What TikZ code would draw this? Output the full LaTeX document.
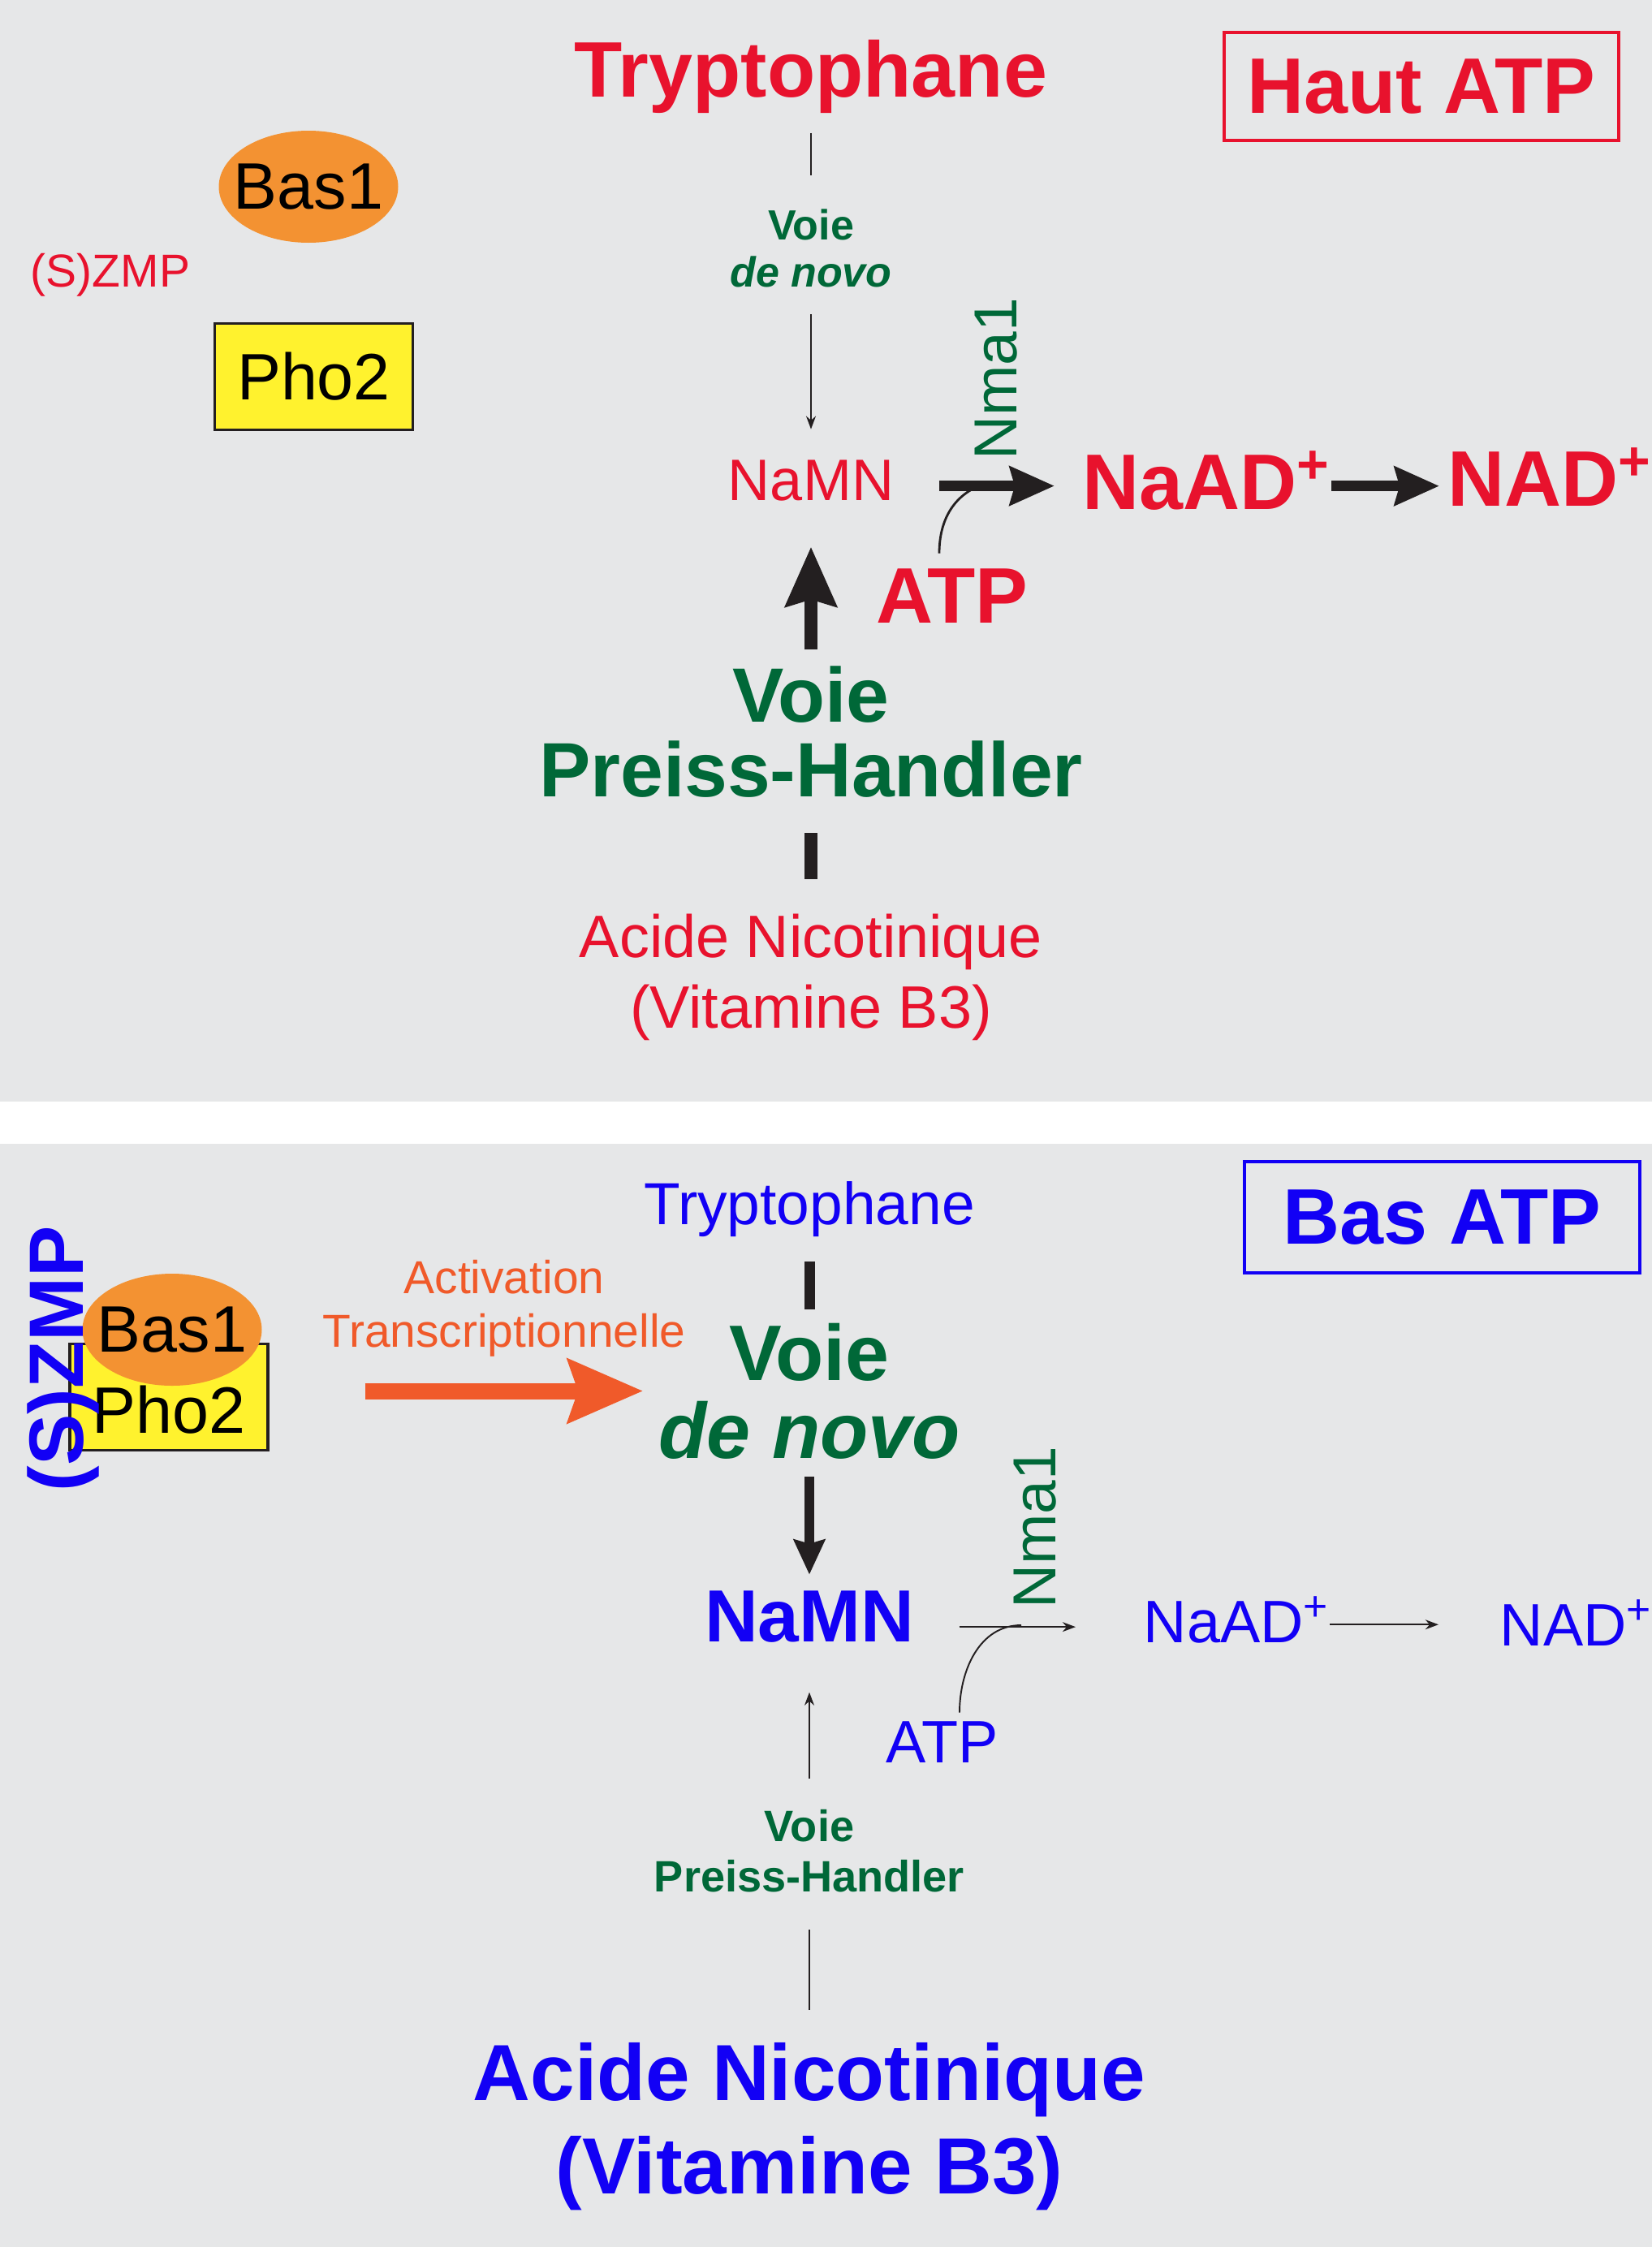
\documentclass[tikz,border=0pt]{standalone}
\usepackage{fontspec}
\setmainfont{Liberation Sans}
\usetikzlibrary{arrows.meta, shapes.geometric}
\definecolor{myRed}{RGB}{232,18,45}
\definecolor{myBlue}{RGB}{18,0,245}
\definecolor{myGreen}{RGB}{0,104,56}
\definecolor{myOrange}{RGB}{240,90,42}
\definecolor{bubbleOrange}{RGB}{243,146,50}
\definecolor{boxYellow}{RGB}{255,242,46}
\definecolor{panelGray}{RGB}{230,231,232}
\definecolor{inkBlack}{RGB}{35,31,32}
\newcommand{\fsz}[2]{\fontsize{#1}{#2}\selectfont}

\begin{document}
\begin{tikzpicture}[
		txt/.style = {inner sep = 0pt, anchor = base},
		multi/.style = {inner sep = 0pt, align = center},
		atpbox/.style = {draw = #1, text = #1, line width = 1.4pt, inner sep = 0pt, font = \bfseries\fsz{27.6}{27.6}},
		bubble/.style = {ellipse, fill = bubbleOrange, inner ysep = 0pt, inner xsep = -0.2cm, minimum width = 2.21cm, minimum height = 1.38cm, font = \fsz{23}{23}},
		yelbox/.style = {draw = inkBlack, fill = boxYellow, line width = 0.9pt, inner sep = 0pt, minimum width = 2.44cm, minimum height = 1.31cm, font = \fsz{23}{23}},
		fat/.style = {inkBlack, line width = 3.7pt, -{Stealth[length = 15.6pt, width = 13.4pt, inset = 1.7pt]}},
		fatup/.style = {inkBlack, line width = 4.8pt, -{Stealth[length = 20.8pt, width = 17.6pt, inset = 2.3pt]}},
		fatdown/.style = {inkBlack, line width = 3.6pt, -{Stealth[length = 12.2pt, width = 10.8pt, inset = 1.4pt]}},
		stub/.style = {inkBlack, line width = #1},
		fine/.style = {inkBlack, line width = 0.55pt},
		finearrow/.style = {fine, -{Stealth[length = 4.6pt, width = 3.4pt]}},
		activ/.style = {myOrange, line width = 5.7pt, -{Stealth[length = 26.2pt, width = 21.9pt, inset = 3.4pt]}}
	]
		\useasboundingbox (0, 0) rectangle (20.35, -27.68);
		\fill[white] (0, 0) rectangle (20.35, -27.68);
		\fill[panelGray] (0, 0) rectangle (20.35, -13.57);
		\fill[panelGray] (0, -14.09) rectangle (20.35, -27.68);
		%%%%%%%%%%%%% haut ATP
		\node[txt, myRed, font = \bfseries\fsz{27.6}{27.6}] (trpH) at (9.99, -1.19) {Tryptophane};
		\node[atpbox = myRed, minimum width = 4.86cm, minimum height = 1.33cm] (haut) at (17.51, -1.065) {Haut ATP};
		\node[bubble] (bas1H) at (3.80, -2.30) {Bas1};
		\node[txt, myRed, font = \fsz{16.2}{16.2}] (szmpH) at (1.36, -3.53) {(S)ZMP};
		\node[yelbox] (pho2H) at (3.865, -4.64) {Pho2};
		\node[multi, myGreen, font = \bfseries\fsz{14.8}{16.5}] (dnS) at (9.99, -3.055) {Voie\\\textit{de novo}};
		\node[txt, myRed, font = \fsz{20.5}{20.5}] (namnH) at (9.99, -6.16) {NaMN};
		\node[txt, myGreen, rotate = 90, font = \fsz{21.3}{21.3}] (nmaH) at (12.52, -4.67) {Nma1};
		\node[txt, anchor = base west, myRed, font = \bfseries\fsz{27.6}{27.6}] (naadH) at (13.33, -6.27) {NaAD\textsuperscript{+}};
		\node[txt, anchor = base west, myRed, font = \bfseries\fsz{27.6}{27.6}] (nadH) at (17.83, -6.23) {NAD\textsuperscript{+}};
		\node[txt, myRed, font = \bfseries\fsz{27.6}{27.6}] (atpH) at (11.73, -7.67) {ATP};
		\node[multi, myGreen, font = \bfseries\fsz{27}{26.2}] (phBig) at (9.99, -9.02) {Voie\\Preiss-Handler};
		\node[multi, myRed, font = \fsz{21}{24.8}] (acH) at (9.99, -12.035) {Acide Nicotinique\\(Vitamine B3)};
		\coordinate (jH) at (12.10, -5.97);
		%%%%%%%%%%%%%
		\draw[fine, shorten < = 0.24cm, shorten > = 0.41cm] (trpH.south) -- (dnS.north);
		\draw[finearrow, shorten < = 0.33cm, shorten > = 0.37cm] (dnS.south) -- (namnH.north);
		\draw[fatup, shorten < = 0.20cm, shorten > = 0.56cm] (phBig.north) -- (namnH.south);
		\draw[stub = 4.8pt, shorten < = 0.42cm, shorten > = 0.42cm] (acH.north) -- (phBig.south);
		\draw[inkBlack, line width = 0.8pt] ([xshift = -0.16cm, yshift = 0.18cm]atpH.north) to[out = 90, in = 200] (jH);
		\draw[fat, shorten < = 0.55cm, shorten > = 0.34cm] ([yshift = -0.07cm]namnH.east) -- ([yshift = -0.07cm]namnH.east -| naadH.west);
		\draw[fat, shorten > = 0.10cm] ([yshift = -0.07cm]naadH.east) -- ([yshift = -0.07cm]naadH.east -| nadH.west);
		%%%%%%%%%%%%% bas ATP
		\node[txt, myBlue, font = \fsz{20.8}{20.8}] (trpL) at (9.97, -15.08) {Tryptophane};
		\node[atpbox = myBlue, minimum width = 4.87cm, minimum height = 1.37cm] (bas) at (17.765, -14.995) {Bas ATP};
		\node[yelbox, text height = 0.88cm, text depth = 0pt] (pho2L) at (2.08, -17.21) {Pho2};
		\node[bubble] (bas1L) at (2.12, -16.38) {Bas1};
		\node[txt, myBlue, rotate = 90, font = \bfseries\fsz{27}{27}] (szmpL) at (1.02, -16.74) {(S)ZMP};
		\node[multi, myOrange, font = \fsz{16.2}{18.8}] (actL) at (6.21, -16.115) {Activation\\Transcriptionnelle};
		\node[multi, myGreen, font = \bfseries\fsz{27.6}{27.3}] (dnBig) at (9.97, -17.135) {Voie\\\textit{de novo}};
		\node[txt, myBlue, font = \bfseries\fsz{25.9}{25.9}] (namnL) at (9.97, -20.22) {NaMN};
		\node[txt, myGreen, rotate = 90, font = \fsz{21.3}{21.3}] (nmaL) at (13.00, -18.82) {Nma1};
		\node[txt, anchor = base west, myBlue, font = \fsz{21}{21}] (naadL) at (14.08, -20.23) {NaAD\textsuperscript{+}};
		\node[txt, anchor = base west, myBlue, font = \fsz{21}{21}] (nadL) at (18.47, -20.27) {NAD\textsuperscript{+}};
		\node[txt, myBlue, font = \fsz{21}{21}] (atpL) at (11.61, -21.71) {ATP};
		\node[multi, myGreen, font = \bfseries\fsz{15.4}{17.6}] (phSmall) at (9.97, -22.805) {Voie\\Preiss-Handler};
		\node[multi, myBlue, font = \bfseries\fsz{27.9}{32.7}] (acL) at (9.97, -26.20) {Acide Nicotinique\\(Vitamine B3)};
		\coordinate (jL) at (12.58, -20.02);
		%%%%%%%%%%%%%
		\draw[stub = 3.7pt, shorten < = 0.30cm, shorten > = 0.16cm] (trpL.south) -- (dnBig.north);
		\draw[fatdown, shorten < = 0.21cm, shorten > = 0.19cm] (dnBig.south) -- (namnL.north);
		\draw[activ, shorten < = 1.18cm, shorten > = 0.18cm] (dnBig.west -| pho2L.east) -- (dnBig.west);
		\draw[fine] ([xshift = 0.21cm, yshift = 0.10cm]atpL.north) to[out = 90, in = 180] (jL);
		\draw[finearrow, shorten < = 0.55cm, shorten > = 0.83cm] ([yshift = -0.13cm]namnL.east) -- ([yshift = -0.13cm]namnL.east -| naadL.west);
		\draw[finearrow, shorten > = 0.75cm] ([yshift = -0.06cm]naadL.east) -- ([yshift = -0.06cm]naadL.east -| nadL.west);
		\draw[finearrow, shorten < = 0.38cm, shorten > = 0.61cm] (phSmall.north) -- (namnL.south);
		\draw[fine, shorten < = 0.40cm, shorten > = 0.45cm] (acL.north) -- (phSmall.south);
\end{tikzpicture}
\end{document}
